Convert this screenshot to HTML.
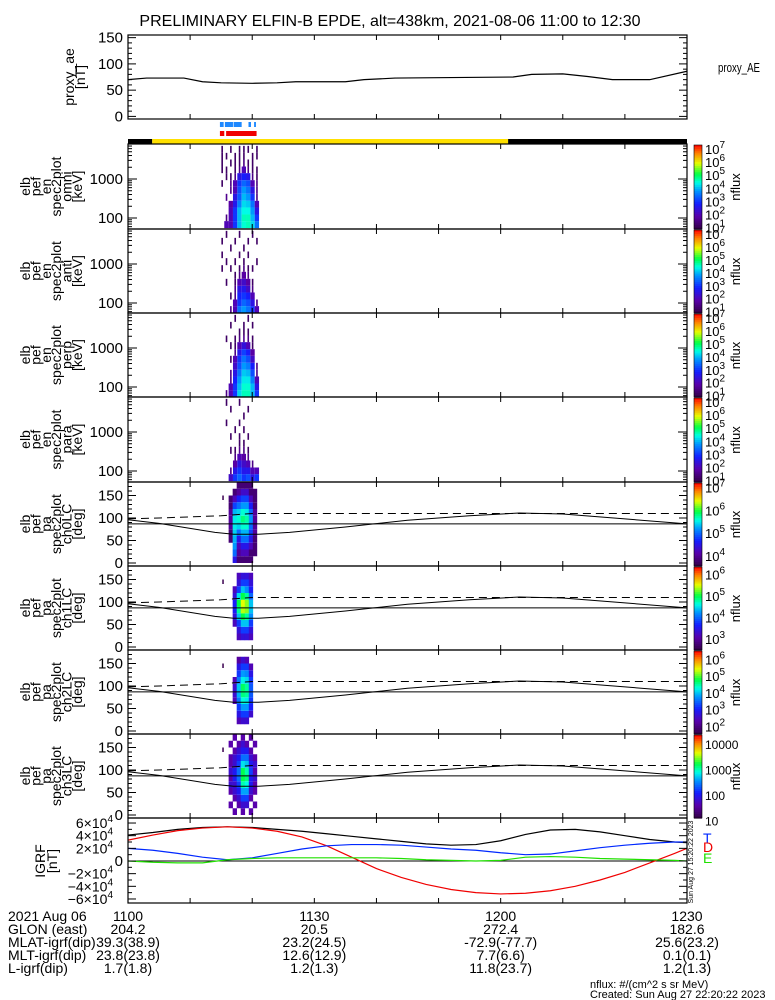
<!DOCTYPE html>
<html><head><meta charset="utf-8"><style>
body{margin:0;background:#fff;}
svg{display:block;font-family:"Liberation Sans",sans-serif;}
</style></head><body>
<svg id="c" width="775" height="1000" viewBox="0 0 775 1000" xmlns="http://www.w3.org/2000/svg"></svg>
<script>
// ---------- DATA ----------
const aeTimes=[0,3,9,12,15,20,24,27,35,38,43,52,62,65,70,74,78,84,90];
const aeValues=[70,73,73,66,64,63,64,66,66,70,73,74,75,80,81,76,70,70,86];
const aeTicks=[0,50,100,150];
const specTimes=[14.8,15.5,16.2,16.9,17.6,18.3,19.0,19.7,20.4];
const specEnergyLog=[1.74,1.92,2.09,2.27,2.44,2.62,2.8,2.97,3.15,3.32,3.5,3.67,3.85];
const omniFlux=[
[0,2,2,3,4,4.5,4.6,4.2,3.5],[0,1.5,2,3,4,4.6,4.6,4,3],[0,0,2,3,4,4.4,4.4,3.8,2.5],
[0,0,1.8,2.6,3.6,4.2,4.1,3.5,2],[0,1.6,0,2.5,3.3,4,3.8,3,1.5],[0,0,1.5,2,3.2,3.8,3.5,2.5,1.5],
[1.2,0,1.5,2,3,3.4,3.2,2,1.5],[0,1.2,1.2,1.5,2.5,2.8,2.6,1.5,1.2],[1.2,1.2,0,1.2,1.5,2,1.5,1.2,1.2],
[1.2,0,1.2,1.2,1.2,1.5,1.2,1.2,0],[1.2,1.2,0,1.2,1.2,1.2,0,1.2,1.2],[1.2,0,1.2,0,1.2,1.2,1.2,0,1.2]];
const antiFlux=[
[0,0,1.5,2,3.5,3.8,3.5,3,2],[0,0,0,2,3,3.4,3.2,2.5,1.5],[0,0,1.2,1.5,2.8,3,2.8,2,0],
[0,0,0,1.5,2.5,2.6,2.2,1.5,0],[0,1.2,0,1.2,2,2.2,1.8,1.2,0],[0,0,0,1.2,1.5,1.8,1.5,0,0],
[1.2,0,1.2,0,1.2,1.5,1.2,1.2,0],[0,1.2,0,1.2,0,1.2,0,0,1.2],[1.2,0,0,0,1.2,0,1.2,0,0],
[0,0,1.2,0,0,1.2,0,0,0],[1.2,0,0,1.2,0,0,1.2,0,1.2],[0,1.2,0,0,1.2,0,0,1.2,0]];
const perpFlux=[
[0,1.5,2,3,4.2,4.6,4.6,4,3],[0,0,2,3,4,4.5,4.5,4,2.5],[0,0,1.5,2.8,3.8,4.3,4.3,3.6,2],
[0,0,1.5,2.5,3.5,4.1,4,3.2,1.5],[0,0,0,2.2,3.2,3.8,3.6,2.8,1.5],[0,0,1.2,2,3,3.5,3.2,2.2,0],
[0,0,0,1.5,2.6,3.1,2.8,1.8,0],[0,0,1.2,1.2,2,2.4,2,1.2,0],[0,1.2,0,1.2,1.5,1.6,1.5,1.2,0],
[0,0,0,0,1.2,1.2,1.2,0,0],[0,0,1.2,0,0,1.2,0,1.2,0],[0,0,0,1.2,0,0,1.2,0,0]];
const paraFlux=[
[0,0,2.2,3,3.4,3,3.2,2.5,3],[0,0,1.5,2.5,3,2.6,2.6,2,2],[0,0,0,1.8,2.5,2.2,2,1.5,0],
[0,0,0,1.5,2,1.8,1.6,0,0],[0,0,1.2,1.2,1.6,1.5,1.2,0,0],[0,0,0,0,1.2,1.2,0,0,0],
[0,0,1.2,0,1.2,0,1.2,0,0],[0,0,0,1.2,0,1.2,0,0,0],[0,1.2,0,0,1.2,0,0,0,0],
[0,0,0,0,0,1.2,0,0,0],[0,0,1.2,0,0,0,1.2,0,0],[0,1.2,0,0,1.2,0,0,0,0]];
const paTimes=[16.2,16.85,17.5,18.15,18.8,19.45,20.1,20.75];
const paBinsDeg=[0,15,30,45,60,75,90,105,120,135,150,165,180];
const ch0Flux=[
[0,4.5,3.8,3.8,3.8,3.8,0],[0,5,4,4.2,4.2,3.8,3.8],[0,5.2,4.2,4.5,4.5,4.2,3.8],
[3.8,5.3,4.5,5,5,4.5,3.8],[3.8,5.4,5,5.3,5.3,4.8,4],[4,5.5,5.4,5.6,5.6,5,4],
[4,5.5,5.6,5.8,5.7,5.2,4],[4,5.3,5.4,5.6,5.5,5,4],[3.8,4.8,5,5.2,5.2,4.6,3.8],
[3.8,4.2,4.6,4.8,4.8,4.2,3.8],[0,3.8,4,4.3,4.3,3.8,3.8],[0,0,3.8,3.8,3.8,3.8,0]];
const ch1Flux=[
[0,0,0,0,0,0,0],[0,0,3.2,3.4,3.4,3.2,0],[0,0,3.4,3.8,3.8,3.4,0],
[0,3.2,3.8,4.4,4.4,3.8,0],[0,3.4,4.4,5,4.8,4.2,0],[0,3.6,4.8,5.4,5.3,4.4,0],
[0,3.6,5,5.5,5.3,4.4,0],[0,3.4,4.5,5,4.8,4,0],[0,3.2,3.8,4.4,4.2,3.6,0],
[0,0,3.4,3.8,3.8,3.4,0],[0,0,3.2,3.4,3.4,3.2,0],[0,0,0,0,0,0,0]];
const ch2Flux=[
[0,0,0,0,0,0,0],[0,0,2.4,2.6,2.6,0,0],[0,0,2.8,3.2,3.2,2.6,0],
[0,0,3.2,3.8,3.8,3,0],[0,2.4,3.6,4.3,4.2,3.2,0],[0,2.6,3.9,4.6,4.5,3.4,0],
[0,2.6,4,4.7,4.5,3.4,0],[0,2.4,3.6,4.2,4.1,3.2,0],[0,0,3.2,3.8,3.7,2.8,0],
[0,0,2.8,3.2,3.2,2.4,0],[0,0,2.2,2.6,2.4,0,0],[0,0,0,0,0,0,0]];
const ch3Flux=[
[0,1.6,0,1.6,0,1.6,0],[1.6,0,1.6,1.8,1.8,0,1.6],[0,1.6,1.8,2.2,2.2,1.6,0],
[1.6,1.8,2,2.6,2.6,1.8,1.6],[1.8,1.8,2.2,3,2.9,2,1.6],[1.6,2,2.4,3.2,3.1,2,1.8],
[1.8,2,2.4,3.2,3,2.2,1.6],[1.6,1.8,2.2,2.8,2.7,2,1.8],[1.6,1.8,2,2.4,2.4,1.8,1.6],
[0,1.6,1.8,2,2,1.6,0],[1.6,0,1.6,1.8,1.6,0,1.6],[0,1.6,0,1.6,0,1.6,0]];
const lcTimes=[0,5,14,17,21,26,35,45,55,63,70,80,90];
const lcDeg=[96,88,68,64,64,68,80,95,105,111,109,98,87];
const alcTimes=[0,5,15,20,90];
const alcDeg=[98,100,105,110,110];
const igrfTimes=[0,4,8,12,16,20,24,28,32,36,40,44,48,52,56,60,64,68,72,76,80,84,88,90];
const igrfT=[4.1,4.5,5.0,5.3,5.4,5.3,5.0,4.7,4.3,3.9,3.5,3.1,2.7,2.5,2.6,3.2,4.2,4.9,5.0,4.6,4.0,3.4,3.0,2.9];
const igrfD=[3.3,4.1,4.8,5.2,5.4,5.2,4.7,3.8,2.4,0.6,-1.2,-2.6,-3.7,-4.5,-5.0,-5.2,-5.1,-4.7,-4.0,-3.0,-1.8,-0.3,1.2,2.0];
const igrfH=[2.0,1.7,1.2,0.6,0.2,0.5,1.2,1.9,2.4,2.6,2.6,2.5,2.2,1.9,1.7,1.3,1.0,1.1,1.6,2.1,2.5,2.8,3.0,3.0];
const igrfE=[0,-0.2,-0.3,-0.3,0.2,0.4,0.5,0.5,0.5,0.5,0.5,0.4,0.2,0.1,0,0.1,0.6,0.7,0.6,0.4,0.3,0.2,0.1,0];
const igrfTicks=[-6,-4,-2,0,2,4,6];
const xTickLabels=["1100","1130","1200","1230"];
const glon=["204.2","20.5","272.4","182.6"];
const mlat=["39.3(38.9)","23.2(24.5)","-72.9(-77.7)","25.6(23.2)"];
const mlt=["23.8(23.8)","12.6(12.9)","7.7(6.6)","0.1(0.1)"];
const lval=["1.7(1.8)","1.2(1.3)","11.8(23.7)","1.2(1.3)"];
const blueBars=[[14.8,15.4],[15.6,16.9],[17.0,18.3],[19.4,19.8],[20.3,20.6]];
const redBars=[[14.8,15.5],[15.8,20.7]];
const sunTimes=[[0,3.9,"#000"],[3.9,61.2,"#ffe000"],[61.2,90,"#000"]];

// ---------- HELPERS ----------
const svg=document.getElementById('c');
const NS="http://www.w3.org/2000/svg";
const X0=128,X1=687;
const xS=t=>X0+(X1-X0)*t/90;
function el(tag,attrs,parent){const e=document.createElementNS(NS,tag);for(const k in attrs)e.setAttribute(k,attrs[k]);(parent||svg).appendChild(e);return e;}
function txt(x,y,s,size,anchor,parent,rot){const e=el('text',{x:x,y:y,'font-size':size||14,'text-anchor':anchor||'start',fill:'#000'},parent);if(rot)e.setAttribute('transform','rotate(-90 '+x+' '+y+')');e.textContent=s;return e;}
function pow(x,y,base,exp,parent,anchor,size){const e=el('text',{x:x,y:y,'font-size':size||14,'text-anchor':anchor||'start'},parent);e.appendChild(document.createTextNode(base));const s=el('tspan',{dy:-6,'font-size':10},e);s.textContent=exp;return e;}
function cmap(f){f=Math.max(0,Math.min(1,f));
 const st=[[0,[50,0,70]],[0.15,[90,0,170]],[0.3,[20,30,255]],[0.45,[0,150,255]],[0.55,[0,255,230]],[0.65,[0,255,70]],[0.78,[230,255,0]],[0.9,[255,130,0]],[1,[255,0,0]]];
 for(let i=1;i<st.length;i++){if(f<=st[i][0]){const a=st[i-1],b=st[i],u=(f-a[0])/(b[0]-a[0]);return 'rgb('+a[1].map((v,j)=>Math.round(v+(b[1][j]-v)*u)).join(',')+')';}}return 'rgb(255,0,0)';}
function xTicks(g,top,bot){for(let t=0;t<=90;t+=10){const x=xS(t);el('line',{x1:x,y1:top,x2:x,y2:top+5,stroke:'#000'},g);el('line',{x1:x,y1:bot,x2:x,y2:bot-5,stroke:'#000'},g);}}
function frame(g,top,bot){el('rect',{x:X0,y:top,width:X1-X0,height:bot-top,fill:'none',stroke:'#000','stroke-width':1.2},g);xTicks(g,top,bot);}
function yLabelLines(g,lines,cx0,dx,cy){lines.forEach((s,i)=>txt(cx0+i*dx,cy,s,14,'middle',g,true));}
function colorbar(g,top,bot,lo,hi,labels,isPow){
 const n=40,h=(bot-top)/n;for(let i=0;i<n;i++){el('rect',{x:694,y:top+i*h,width:8,height:h+0.6,fill:cmap(1-(i+0.5)/n)},g);}
 el('rect',{x:694,y:top,width:8,height:bot-top,fill:'none',stroke:'#000','stroke-width':0.6},g);
 labels.forEach(L=>{const y=top+(hi-L)/(hi-lo)*(bot-top)+5;if(isPow)pow(705,y,'10',String(L),g,'start',13);else txt(705,y,String(Math.round(Math.pow(10,L))),12,'start',g);});
 txt(740,(top+bot)/2,'nflux',13,'middle',g,true);}

// ---------- TITLE ----------
const title=txt(390,26,'PRELIMINARY ELFIN-B EPDE, alt=438km, 2021-08-06 11:00 to 12:30',16,'middle');


// ---------- AE PANEL ----------
const gAE=el('g',{});

const aeY=v=>116.4-v*0.525;
frame(gAE,35,119);
for(let v=0;v<=150;v+=10){el('line',{x1:X0,y1:aeY(v),x2:X0+(v%50?4:8),y2:aeY(v),stroke:'#000'},gAE);el('line',{x1:X1,y1:aeY(v),x2:X1-(v%50?4:8),y2:aeY(v),stroke:'#000'},gAE);}
aeTicks.forEach(v=>txt(123,aeY(v)+5,String(v),15,'end',gAE));
const aeLine=el('polyline',{points:aeTimes.map((t,i)=>xS(t)+','+aeY(aeValues[i])).join(' '),fill:'none',stroke:'#000','stroke-width':1.2},gAE);

yLabelLines(gAE,['proxy_ae','[nT]'],74,11,77);
const aeLab=txt(718,72,'proxy_AE',13,'start',gAE);aeLab.setAttribute('textLength','42');aeLab.setAttribute('lengthAdjust','spacingAndGlyphs');

// ---------- BARS ----------
const gB=el('g',{});
blueBars.forEach(b=>el('rect',{x:xS(b[0]),y:122,width:xS(b[1])-xS(b[0]),height:5,fill:'#1e88ff'},gB));
redBars.forEach(b=>el('rect',{x:xS(b[0]),y:131,width:xS(b[1])-xS(b[0]),height:5,fill:'#f00000'},gB));
sunTimes.forEach(b=>el('rect',{x:xS(b[0]),y:139,width:xS(b[1])-xS(b[0]),height:5,fill:b[2]},gB));

// ---------- SPEC PANELS ----------
const specs=[['omni',omniFlux],['anti',antiFlux],['perp',perpFlux],['para',paraFlux]];
const specTops=[144,229,313,397];
const colW=(xS(specTimes[1])-xS(specTimes[0]));
specs.forEach((sp,k)=>{
 const T=specTops[k],B=(k<3?specTops[k+1]:482);
 const g=el('g',{});
 const eY=l=>T+74-(l-2)*39;
 sp[1].forEach((row,r)=>row.forEach((v,c)=>{if(!v)return;
  const y1=Math.max(T,eY(specEnergyLog[r+1])),y2=Math.min(B,eY(specEnergyLog[r]));
  const w=v<1.8?1.6:colW;const x=xS(specTimes[c])+(v<1.8?colW/3:0);
  const cell=el('rect',{x:x,y:y1,width:w,height:y2-y1,fill:cmap((v-0.9)/6.4)},g);
  }));
 frame(g,T,B);
 [1,2,3,4].forEach(d=>{for(let m=1;m<10;m++){const y=eY(d+Math.log10(m));if(y<T||y>B)continue;const L=m==1?9:4;el('line',{x1:X0,y1:y,x2:X0+L,y2:y,stroke:'#000'},g);el('line',{x1:X1,y1:y,x2:X1-L,y2:y,stroke:'#000'},g);}});
 txt(123,eY(2)+5,'100',15,'end',g);txt(123,eY(3)+5,'1000',15,'end',g);
 yLabelLines(g,['elb','pef','en','spec2plot',sp[0],'[keV]'],30,10.4,(T+B)/2);
 colorbar(g,T+1,B,0.9,7.3,[7,6,5,4,3,2,1],true);
});

// ---------- PA PANELS ----------
const pas=[['ch0LC',ch0Flux,3.55,7.2,[7,6,5,4],true],['ch1LC',ch1Flux,2.5,6.35,[6,5,4,3],true],['ch2LC',ch2Flux,1.55,6.5,[6,5,4,3,2],true],['ch3LC',ch3Flux,1.1,4.35,[4,3,2,1],false]];
const paTops=[482,566,650,734];
pas.forEach((p,k)=>{
 const T=paTops[k],B=T+84;
 const g=el('g',{});
 const pY=d=>T+81-d*0.45;
 const cw=xS(paTimes[1])-xS(paTimes[0]);
 p[1].forEach((row,r)=>row.forEach((v,c)=>{if(!v)return;
  const y1=Math.max(T,pY(paBinsDeg[r+1])),y2=Math.min(B,pY(paBinsDeg[r]));
  const cell=el('rect',{x:xS(paTimes[c]),y:y1,width:cw+0.3,height:y2-y1,fill:cmap((v-p[2])/(p[3]-p[2]))},g);
  }));
 el('line',{x1:xS(15.3),y1:pY(150),x2:xS(15.3),y2:pY(140),stroke:'#3a0050','stroke-width':1.5},g);
 el('line',{x1:X0,y1:pY(87),x2:X1,y2:pY(87),stroke:'#000'},g);
 const lc=el('polyline',{points:lcTimes.map((t,i)=>xS(t)+','+pY(lcDeg[i])).join(' '),fill:'none',stroke:'#000'},g);
 
 const alc=el('polyline',{points:alcTimes.map((t,i)=>xS(t)+','+pY(alcDeg[i])).join(' '),fill:'none',stroke:'#000','stroke-dasharray':'8,5'},g);
 
 frame(g,T,B);
 for(let d=0;d<=180;d+=10){const y=pY(d);if(y<T)continue;const L=d%50?4:8;el('line',{x1:X0,y1:y,x2:X0+L,y2:y,stroke:'#000'},g);el('line',{x1:X1,y1:y,x2:X1-L,y2:y,stroke:'#000'},g);}
 [0,50,100,150].forEach(d=>txt(123,pY(d)+5,String(d),15,'end',g));
 yLabelLines(g,['elb','pef','pa','spec2plot',p[0],'[deg]'],30,10.4,(T+B)/2);
 colorbar(g,T+1,B,p[2],p[3],p[4],p[5]);
});

// ---------- IGRF ----------
const gI=el('g',{});
const iY=v=>861-v*6.33;
el('line',{x1:X0,y1:iY(0),x2:X1,y2:iY(0),stroke:'#000'},gI);
[['T',igrfT,'#000'],['D',igrfD,'#f00000'],['H',igrfH,'#0028ff'],['E',igrfE,'#20e000']].forEach(s=>{
 const pl=el('polyline',{points:igrfTimes.map((t,i)=>xS(t)+','+iY(s[1][i])).join(' '),fill:'none',stroke:s[2],'stroke-width':1.2},gI);
 });
frame(gI,818,903);
for(let v=-6;v<=6;v+=1){const y=iY(v);const L=v%2?4:8;el('line',{x1:X0,y1:y,x2:X0+L,y2:y,stroke:'#000'},gI);el('line',{x1:X1,y1:y,x2:X1-L,y2:y,stroke:'#000'},gI);}
igrfTicks.forEach(v=>{const y=iY(v)+5;if(v===0)txt(123,y,'0',15,'end',gI);else pow(113,y,(v<0?'\u2212':'')+Math.abs(v)+'\u00d710','4',gI,'end');});
yLabelLines(gI,['IGRF','[nT]'],45,12,861);
txt(703,843,'T',14,'start',gI).setAttribute('fill','#0028ff');
txt(703,852,'D',14,'start',gI).setAttribute('fill','#f00000');
txt(703,863,'E',14,'start',gI).setAttribute('fill','#20e000');
txt(693,862,'Sun Aug 27 15:20:22 2023',7,'middle',gI,true);

// ---------- BOTTOM TEXT ----------
const gT=el('g',{});
const rows=[['2021 Aug 06',xTickLabels],['GLON (east)',glon],['MLAT-igrf(dip)',mlat],['MLT-igrf(dip)',mlt],['L-igrf(dip)',lval]];
rows.forEach((r,i)=>{const y=921+i*13;txt(8,y,r[0],14,'start',gT);r[1].forEach((s,j)=>txt(xS(j*30),y,s,14,'middle',gT));});
txt(590,988,'nflux: #/(cm^2 s sr MeV)',11,'start',gT);
txt(590,998,'Created: Sun Aug 27 22:20:22 2023',11,'start',gT);
</script>
</body></html>
